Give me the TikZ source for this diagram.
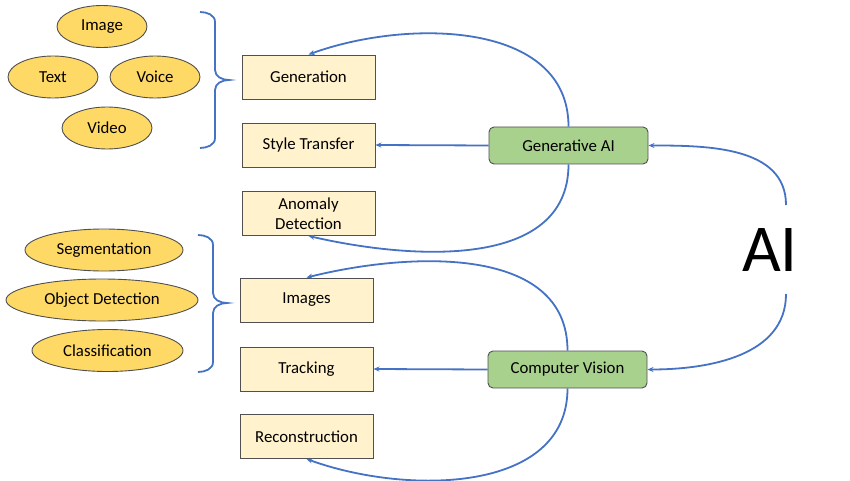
\documentclass[tikz,border=0pt]{standalone}
\usepackage{fontspec}
\setmainfont{Carlito}
\usetikzlibrary{arrows.meta,shapes.geometric}
\definecolor{oval}{HTML}{FFD966}
\definecolor{boxfill}{HTML}{FFF2CC}
\definecolor{greenfill}{HTML}{A9D18E}
\definecolor{linkblue}{HTML}{4472C4}
\definecolor{edge}{HTML}{505050}
\begin{document}
\begin{tikzpicture}[x=1pt,y=-1pt,
  txt/.style={font=\fontsize{16.8}{20}\selectfont, text=black},
  ovalnode/.style={txt, ellipse, draw=edge, line width=0.9pt, fill=oval, minimum height=42pt, inner sep=0pt},
  taskbox/.style={txt, draw=edge, line width=0.9pt, fill=boxfill, minimum width=133pt, minimum height=44pt, inner sep=1pt, align=center},
  fieldbox/.style={txt, draw=edge, line width=0.9pt, fill=greenfill, rounded corners=5pt, minimum width=159pt, minimum height=37pt, inner sep=1pt},
  arr/.style={draw=linkblue, line width=1.8pt, -{Stealth[length=6pt,width=5pt]}},
  bracestyle/.style={draw=linkblue, line width=1.8pt}
]
\useasboundingbox (0,0) rectangle (850,481);

% top ovals
\node[ovalnode, minimum width=90pt] (image) at (102,26.5) {Image};
\node[ovalnode, minimum width=90pt] (text) at (53,77) {Text};
\node[ovalnode, minimum width=90pt] (voice) at (155,77) {Voice};
\node[ovalnode, minimum width=90pt] (video) at (107,128) {Video};

% bottom ovals
\node[ovalnode, minimum width=158pt] (seg) at (104,250) {Segmentation};
\node[ovalnode, minimum width=192pt] (objdet) at (102,300) {Object Detection};
\node[ovalnode, minimum width=151pt] (cls) at (107.5,350.5) {Classification};

% braces
\draw[bracestyle] (200,12) to[out=0,in=90] (215,22) -- (215,70) to[out=-90,in=180] (229,80)
  to[out=180,in=90] (215,90) -- (215,138) to[out=-90,in=0] (200,148);
\draw[bracestyle] (198,235) to[out=0,in=90] (213,245) -- (213,293) to[out=-90,in=180] (227,303)
  to[out=180,in=90] (213,313) -- (213,362) to[out=-90,in=0] (198,372);

% task boxes
\node[taskbox] (gen) at (308.5,77) {Generation};
\node[taskbox] (style) at (308.5,145) {Style Transfer};
\node[taskbox] (anom) at (308.5,213.5) {Anomaly\\Detection};
\node[taskbox] (imgs) at (306.5,300) {Images};
\node[taskbox] (track) at (306.5,369) {Tracking};
\node[taskbox] (recon) at (306.5,436.5) {Reconstruction};

% fields
\node[fieldbox] (gai) at (568.5,145.5) {Generative AI};
\node[fieldbox] (cv) at (567.5,369.5) {Computer Vision};

% AI
\node[font=\fontsize{67}{70}\selectfont, inner sep=0pt] (ai) at (770,250) {AI};
\coordinate (aitop) at (786,205);
\coordinate (aibot) at (786,294);

% connectors
\draw[arr] (aitop) to[out=90,in=0] (gai.east);
\draw[arr] (aibot) to[out=-90,in=0] (cv.east);

\draw[arr] (gai.west) -- (style.east);
\draw[arr] (gai.north) to[out=90,in=20] (gen.north);
\draw[arr] (gai.south) to[out=-90,in=-13] (anom.south);

\draw[arr] (cv.west) -- (track.east);
\draw[arr] (cv.north) to[out=90,in=14] (imgs.north);
\draw[arr] (cv.south) to[out=-90,in=-20] (recon.south);
\end{tikzpicture}
\end{document}
